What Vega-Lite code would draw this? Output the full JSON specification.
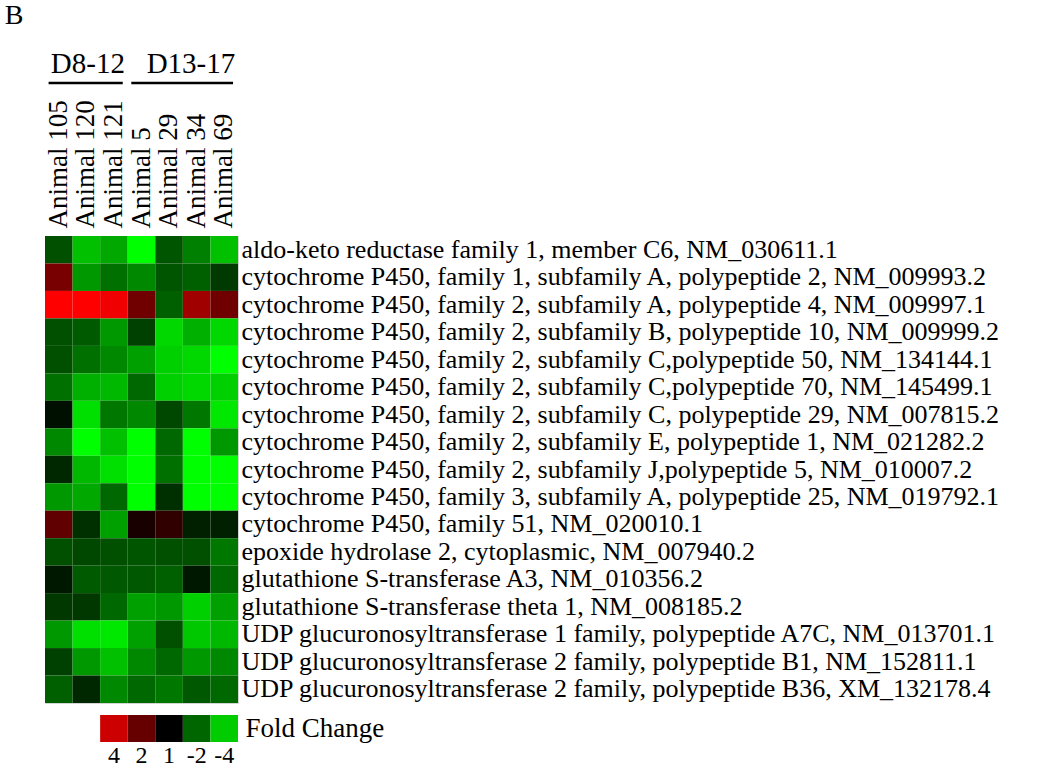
{
  "$schema": "https://vega.github.io/schema/vega-lite/v6.json",
  "padding": {"left": 4, "top": 2, "right": 5, "bottom": 3},
  "background": "white",
  "title": {"text": "B", "anchor": "start", "frame": "bounds", "dx": -39, "fontSize": 28, "font": "Liberation Serif, Times New Roman, serif", "fontWeight": "normal", "color": "black", "offset": 20},
  "spacing": 10,
  "resolve": {"scale": {"x": "independent", "y": "independent", "color": "shared"}},
  "config": {
    "font": "Liberation Serif, Times New Roman, serif",
    "axis": {"labelFont": "Liberation Serif, Times New Roman, serif", "labelColor": "black", "domain": false, "ticks": false, "title": null, "grid": false},
    "text": {"font": "Liberation Serif, Times New Roman, serif"}
  },
  "vconcat": [
    {
      "width": 193,
      "height": 12,
      "view": {"stroke": null},
      "data": {"values": [
        {"grp": "D8-12", "first": "Animal 105", "last": "Animal 121"},
        {"grp": "D13-17", "first": "Animal 5", "last": "Animal 69"}
      ]},
      "layer": [
        {
          "mark": {"type": "rule", "strokeWidth": 2.5, "color": "black"},
          "encoding": {
            "x": {"field": "first", "type": "nominal", "bandPosition": 0.13, "axis": null,
                  "scale": {"domain": ["Animal 105", "Animal 120", "Animal 121", "Animal 5", "Animal 29", "Animal 34", "Animal 69"], "paddingInner": 0, "paddingOuter": 0}},
            "x2": {"field": "last", "bandPosition": 0.82}
          }
        },
        {
          "mark": {"type": "text", "align": "right", "baseline": "alphabetic", "dy": -10, "fontSize": 29, "color": "black", "font": "Liberation Serif, Times New Roman, serif"},
          "encoding": {
            "x": {"field": "last", "type": "nominal", "bandPosition": 0.9, "axis": null},
            "text": {"field": "grp"}
          }
        }
      ]
    },
    {
      "width": 193,
      "height": 467,
      "view": {"stroke": "#d4d4d4", "strokeWidth": 1},
      "data": {"values": [
        {"g": "aldo-keto reductase family 1, member C6, NM_030611.1", "a": "Animal 105", "v": -0.78},
        {"g": "aldo-keto reductase family 1, member C6, NM_030611.1", "a": "Animal 120", "v": -1.88},
        {"g": "aldo-keto reductase family 1, member C6, NM_030611.1", "a": "Animal 121", "v": -1.65},
        {"g": "aldo-keto reductase family 1, member C6, NM_030611.1", "a": "Animal 5", "v": -2.5},
        {"g": "aldo-keto reductase family 1, member C6, NM_030611.1", "a": "Animal 29", "v": -0.83},
        {"g": "aldo-keto reductase family 1, member C6, NM_030611.1", "a": "Animal 34", "v": -1.25},
        {"g": "aldo-keto reductase family 1, member C6, NM_030611.1", "a": "Animal 69", "v": -1.88},
        {"g": "cytochrome P450, family 1, subfamily A, polypeptide 2, NM_009993.2", "a": "Animal 105", "v": 1.18},
        {"g": "cytochrome P450, family 1, subfamily A, polypeptide 2, NM_009993.2", "a": "Animal 120", "v": -1.49},
        {"g": "cytochrome P450, family 1, subfamily A, polypeptide 2, NM_009993.2", "a": "Animal 121", "v": -1.1},
        {"g": "cytochrome P450, family 1, subfamily A, polypeptide 2, NM_009993.2", "a": "Animal 5", "v": -1.33},
        {"g": "cytochrome P450, family 1, subfamily A, polypeptide 2, NM_009993.2", "a": "Animal 29", "v": -0.83},
        {"g": "cytochrome P450, family 1, subfamily A, polypeptide 2, NM_009993.2", "a": "Animal 34", "v": -0.94},
        {"g": "cytochrome P450, family 1, subfamily A, polypeptide 2, NM_009993.2", "a": "Animal 69", "v": -0.57},
        {"g": "cytochrome P450, family 2, subfamily A, polypeptide 4, NM_009997.1", "a": "Animal 105", "v": 2.5},
        {"g": "cytochrome P450, family 2, subfamily A, polypeptide 4, NM_009997.1", "a": "Animal 120", "v": 2.5},
        {"g": "cytochrome P450, family 2, subfamily A, polypeptide 4, NM_009997.1", "a": "Animal 121", "v": 2.35},
        {"g": "cytochrome P450, family 2, subfamily A, polypeptide 4, NM_009997.1", "a": "Animal 5", "v": 1.1},
        {"g": "cytochrome P450, family 2, subfamily A, polypeptide 4, NM_009997.1", "a": "Animal 29", "v": -0.94},
        {"g": "cytochrome P450, family 2, subfamily A, polypeptide 4, NM_009997.1", "a": "Animal 34", "v": 1.57},
        {"g": "cytochrome P450, family 2, subfamily A, polypeptide 4, NM_009997.1", "a": "Animal 69", "v": 1.1},
        {"g": "cytochrome P450, family 2, subfamily B, polypeptide 10, NM_009999.2", "a": "Animal 105", "v": -0.78},
        {"g": "cytochrome P450, family 2, subfamily B, polypeptide 10, NM_009999.2", "a": "Animal 120", "v": -0.88},
        {"g": "cytochrome P450, family 2, subfamily B, polypeptide 10, NM_009999.2", "a": "Animal 121", "v": -1.49},
        {"g": "cytochrome P450, family 2, subfamily B, polypeptide 10, NM_009999.2", "a": "Animal 5", "v": -0.63},
        {"g": "cytochrome P450, family 2, subfamily B, polypeptide 10, NM_009999.2", "a": "Animal 29", "v": -2.12},
        {"g": "cytochrome P450, family 2, subfamily B, polypeptide 10, NM_009999.2", "a": "Animal 34", "v": -1.73},
        {"g": "cytochrome P450, family 2, subfamily B, polypeptide 10, NM_009999.2", "a": "Animal 69", "v": -2.12},
        {"g": "cytochrome P450, family 2, subfamily C,polypeptide 50, NM_134144.1", "a": "Animal 105", "v": -0.78},
        {"g": "cytochrome P450, family 2, subfamily C,polypeptide 50, NM_134144.1", "a": "Animal 120", "v": -1.1},
        {"g": "cytochrome P450, family 2, subfamily C,polypeptide 50, NM_134144.1", "a": "Animal 121", "v": -1.33},
        {"g": "cytochrome P450, family 2, subfamily C,polypeptide 50, NM_134144.1", "a": "Animal 5", "v": -1.57},
        {"g": "cytochrome P450, family 2, subfamily C,polypeptide 50, NM_134144.1", "a": "Animal 29", "v": -2.04},
        {"g": "cytochrome P450, family 2, subfamily C,polypeptide 50, NM_134144.1", "a": "Animal 34", "v": -2.12},
        {"g": "cytochrome P450, family 2, subfamily C,polypeptide 50, NM_134144.1", "a": "Animal 69", "v": -2.5},
        {"g": "cytochrome P450, family 2, subfamily C,polypeptide 70, NM_145499.1", "a": "Animal 105", "v": -1.1},
        {"g": "cytochrome P450, family 2, subfamily C,polypeptide 70, NM_145499.1", "a": "Animal 120", "v": -1.73},
        {"g": "cytochrome P450, family 2, subfamily C,polypeptide 70, NM_145499.1", "a": "Animal 121", "v": -1.8},
        {"g": "cytochrome P450, family 2, subfamily C,polypeptide 70, NM_145499.1", "a": "Animal 5", "v": -1.02},
        {"g": "cytochrome P450, family 2, subfamily C,polypeptide 70, NM_145499.1", "a": "Animal 29", "v": -2.04},
        {"g": "cytochrome P450, family 2, subfamily C,polypeptide 70, NM_145499.1", "a": "Animal 34", "v": -2.12},
        {"g": "cytochrome P450, family 2, subfamily C,polypeptide 70, NM_145499.1", "a": "Animal 69", "v": -2.04},
        {"g": "cytochrome P450, family 2, subfamily C, polypeptide 29, NM_007815.2", "a": "Animal 105", "v": -0.16},
        {"g": "cytochrome P450, family 2, subfamily C, polypeptide 29, NM_007815.2", "a": "Animal 120", "v": -2.2},
        {"g": "cytochrome P450, family 2, subfamily C, polypeptide 29, NM_007815.2", "a": "Animal 121", "v": -1.18},
        {"g": "cytochrome P450, family 2, subfamily C, polypeptide 29, NM_007815.2", "a": "Animal 5", "v": -1.33},
        {"g": "cytochrome P450, family 2, subfamily C, polypeptide 29, NM_007815.2", "a": "Animal 29", "v": -0.71},
        {"g": "cytochrome P450, family 2, subfamily C, polypeptide 29, NM_007815.2", "a": "Animal 34", "v": -1.18},
        {"g": "cytochrome P450, family 2, subfamily C, polypeptide 29, NM_007815.2", "a": "Animal 69", "v": -2.27},
        {"g": "cytochrome P450, family 2, subfamily E, polypeptide 1, NM_021282.2", "a": "Animal 105", "v": -1.33},
        {"g": "cytochrome P450, family 2, subfamily E, polypeptide 1, NM_021282.2", "a": "Animal 120", "v": -2.5},
        {"g": "cytochrome P450, family 2, subfamily E, polypeptide 1, NM_021282.2", "a": "Animal 121", "v": -1.88},
        {"g": "cytochrome P450, family 2, subfamily E, polypeptide 1, NM_021282.2", "a": "Animal 5", "v": -2.5},
        {"g": "cytochrome P450, family 2, subfamily E, polypeptide 1, NM_021282.2", "a": "Animal 29", "v": -1.02},
        {"g": "cytochrome P450, family 2, subfamily E, polypeptide 1, NM_021282.2", "a": "Animal 34", "v": -2.5},
        {"g": "cytochrome P450, family 2, subfamily E, polypeptide 1, NM_021282.2", "a": "Animal 69", "v": -1.49},
        {"g": "cytochrome P450, family 2, subfamily J,polypeptide 5, NM_010007.2", "a": "Animal 105", "v": -0.39},
        {"g": "cytochrome P450, family 2, subfamily J,polypeptide 5, NM_010007.2", "a": "Animal 120", "v": -1.8},
        {"g": "cytochrome P450, family 2, subfamily J,polypeptide 5, NM_010007.2", "a": "Animal 121", "v": -2.2},
        {"g": "cytochrome P450, family 2, subfamily J,polypeptide 5, NM_010007.2", "a": "Animal 5", "v": -2.5},
        {"g": "cytochrome P450, family 2, subfamily J,polypeptide 5, NM_010007.2", "a": "Animal 29", "v": -1.1},
        {"g": "cytochrome P450, family 2, subfamily J,polypeptide 5, NM_010007.2", "a": "Animal 34", "v": -2.5},
        {"g": "cytochrome P450, family 2, subfamily J,polypeptide 5, NM_010007.2", "a": "Animal 69", "v": -2.5},
        {"g": "cytochrome P450, family 3, subfamily A, polypeptide 25, NM_019792.1", "a": "Animal 105", "v": -1.49},
        {"g": "cytochrome P450, family 3, subfamily A, polypeptide 25, NM_019792.1", "a": "Animal 120", "v": -1.65},
        {"g": "cytochrome P450, family 3, subfamily A, polypeptide 25, NM_019792.1", "a": "Animal 121", "v": -1.02},
        {"g": "cytochrome P450, family 3, subfamily A, polypeptide 25, NM_019792.1", "a": "Animal 5", "v": -2.5},
        {"g": "cytochrome P450, family 3, subfamily A, polypeptide 25, NM_019792.1", "a": "Animal 29", "v": -0.47},
        {"g": "cytochrome P450, family 3, subfamily A, polypeptide 25, NM_019792.1", "a": "Animal 34", "v": -2.5},
        {"g": "cytochrome P450, family 3, subfamily A, polypeptide 25, NM_019792.1", "a": "Animal 69", "v": -2.5},
        {"g": "cytochrome P450, family 51, NM_020010.1", "a": "Animal 105", "v": 0.94},
        {"g": "cytochrome P450, family 51, NM_020010.1", "a": "Animal 120", "v": -0.47},
        {"g": "cytochrome P450, family 51, NM_020010.1", "a": "Animal 121", "v": -1.57},
        {"g": "cytochrome P450, family 51, NM_020010.1", "a": "Animal 5", "v": 0.24},
        {"g": "cytochrome P450, family 51, NM_020010.1", "a": "Animal 29", "v": 0.47},
        {"g": "cytochrome P450, family 51, NM_020010.1", "a": "Animal 34", "v": -0.31},
        {"g": "cytochrome P450, family 51, NM_020010.1", "a": "Animal 69", "v": -0.31},
        {"g": "epoxide hydrolase 2, cytoplasmic, NM_007940.2", "a": "Animal 105", "v": -0.78},
        {"g": "epoxide hydrolase 2, cytoplasmic, NM_007940.2", "a": "Animal 120", "v": -0.71},
        {"g": "epoxide hydrolase 2, cytoplasmic, NM_007940.2", "a": "Animal 121", "v": -0.78},
        {"g": "epoxide hydrolase 2, cytoplasmic, NM_007940.2", "a": "Animal 5", "v": -0.83},
        {"g": "epoxide hydrolase 2, cytoplasmic, NM_007940.2", "a": "Animal 29", "v": -0.78},
        {"g": "epoxide hydrolase 2, cytoplasmic, NM_007940.2", "a": "Animal 34", "v": -0.78},
        {"g": "epoxide hydrolase 2, cytoplasmic, NM_007940.2", "a": "Animal 69", "v": -1.18},
        {"g": "glutathione S-transferase A3, NM_010356.2", "a": "Animal 105", "v": -0.24},
        {"g": "glutathione S-transferase A3, NM_010356.2", "a": "Animal 120", "v": -0.88},
        {"g": "glutathione S-transferase A3, NM_010356.2", "a": "Animal 121", "v": -0.86},
        {"g": "glutathione S-transferase A3, NM_010356.2", "a": "Animal 5", "v": -0.86},
        {"g": "glutathione S-transferase A3, NM_010356.2", "a": "Animal 29", "v": -0.94},
        {"g": "glutathione S-transferase A3, NM_010356.2", "a": "Animal 34", "v": -0.24},
        {"g": "glutathione S-transferase A3, NM_010356.2", "a": "Animal 69", "v": -1.02},
        {"g": "glutathione S-transferase theta 1, NM_008185.2", "a": "Animal 105", "v": -0.55},
        {"g": "glutathione S-transferase theta 1, NM_008185.2", "a": "Animal 120", "v": -0.55},
        {"g": "glutathione S-transferase theta 1, NM_008185.2", "a": "Animal 121", "v": -1.02},
        {"g": "glutathione S-transferase theta 1, NM_008185.2", "a": "Animal 5", "v": -1.57},
        {"g": "glutathione S-transferase theta 1, NM_008185.2", "a": "Animal 29", "v": -1.49},
        {"g": "glutathione S-transferase theta 1, NM_008185.2", "a": "Animal 34", "v": -2.04},
        {"g": "glutathione S-transferase theta 1, NM_008185.2", "a": "Animal 69", "v": -1.57},
        {"g": "UDP glucuronosyltransferase 1 family, polypeptide A7C, NM_013701.1", "a": "Animal 105", "v": -1.49},
        {"g": "UDP glucuronosyltransferase 1 family, polypeptide A7C, NM_013701.1", "a": "Animal 120", "v": -2.2},
        {"g": "UDP glucuronosyltransferase 1 family, polypeptide A7C, NM_013701.1", "a": "Animal 121", "v": -2.27},
        {"g": "UDP glucuronosyltransferase 1 family, polypeptide A7C, NM_013701.1", "a": "Animal 5", "v": -1.57},
        {"g": "UDP glucuronosyltransferase 1 family, polypeptide A7C, NM_013701.1", "a": "Animal 29", "v": -0.78},
        {"g": "UDP glucuronosyltransferase 1 family, polypeptide A7C, NM_013701.1", "a": "Animal 34", "v": -1.96},
        {"g": "UDP glucuronosyltransferase 1 family, polypeptide A7C, NM_013701.1", "a": "Animal 69", "v": -1.8},
        {"g": "UDP glucuronosyltransferase 2 family, polypeptide B1, NM_152811.1", "a": "Animal 105", "v": -0.63},
        {"g": "UDP glucuronosyltransferase 2 family, polypeptide B1, NM_152811.1", "a": "Animal 120", "v": -1.49},
        {"g": "UDP glucuronosyltransferase 2 family, polypeptide B1, NM_152811.1", "a": "Animal 121", "v": -1.88},
        {"g": "UDP glucuronosyltransferase 2 family, polypeptide B1, NM_152811.1", "a": "Animal 5", "v": -1.33},
        {"g": "UDP glucuronosyltransferase 2 family, polypeptide B1, NM_152811.1", "a": "Animal 29", "v": -1.02},
        {"g": "UDP glucuronosyltransferase 2 family, polypeptide B1, NM_152811.1", "a": "Animal 34", "v": -1.49},
        {"g": "UDP glucuronosyltransferase 2 family, polypeptide B1, NM_152811.1", "a": "Animal 69", "v": -1.33},
        {"g": "UDP glucuronosyltransferase 2 family, polypeptide B36, XM_132178.4", "a": "Animal 105", "v": -0.94},
        {"g": "UDP glucuronosyltransferase 2 family, polypeptide B36, XM_132178.4", "a": "Animal 120", "v": -0.39},
        {"g": "UDP glucuronosyltransferase 2 family, polypeptide B36, XM_132178.4", "a": "Animal 121", "v": -1.33},
        {"g": "UDP glucuronosyltransferase 2 family, polypeptide B36, XM_132178.4", "a": "Animal 5", "v": -1.02},
        {"g": "UDP glucuronosyltransferase 2 family, polypeptide B36, XM_132178.4", "a": "Animal 29", "v": -1.18},
        {"g": "UDP glucuronosyltransferase 2 family, polypeptide B36, XM_132178.4", "a": "Animal 34", "v": -0.86},
        {"g": "UDP glucuronosyltransferase 2 family, polypeptide B36, XM_132178.4", "a": "Animal 69", "v": -1.02}
      ]},
      "mark": {"type": "rect"},
      "encoding": {
        "x": {"field": "a", "type": "nominal", "sort": null, "scale": {"paddingInner": 0, "paddingOuter": 0},
              "axis": {"orient": "top", "labelAngle": -90, "labelFontSize": 27, "labelPadding": 8}},
        "y": {"field": "g", "type": "nominal", "sort": null, "scale": {"paddingInner": 0, "paddingOuter": 0},
              "axis": {"orient": "right", "labelFontSize": 26, "labelPadding": 3, "labelLimit": 1000}},
        "color": {"field": "v", "type": "quantitative", "legend": null,
                  "scale": {"domain": [-2.5, 0, 2.5], "range": ["#00ff00", "#000000", "#ff0000"], "interpolate": "rgb", "clamp": true}}
      }
    },
    {
      "width": 193,
      "height": 27,
      "view": {"stroke": null},
      "data": {"values": [
        {"fc": "4", "log2fc": 2, "key": "Fold Change"},
        {"fc": "2", "log2fc": 1, "key": "Fold Change"},
        {"fc": "1", "log2fc": 0, "key": "Fold Change"},
        {"fc": "-2", "log2fc": -1, "key": "Fold Change"},
        {"fc": "-4", "log2fc": -2, "key": "Fold Change"}
      ]},
      "mark": {"type": "rect"},
      "encoding": {
        "x": {"field": "fc", "type": "nominal", "sort": null,
              "scale": {"paddingInner": 0, "paddingOuter": 1.02, "align": 1},
              "axis": {"orient": "bottom", "labelAngle": 0, "labelFontSize": 24, "labelPadding": 1}},
        "y": {"field": "key", "type": "nominal",
              "axis": {"orient": "right", "labelFontSize": 27, "labelPadding": 7, "labelLimit": 1000}},
        "color": {"field": "log2fc", "type": "quantitative", "legend": null}
      }
    }
  ]
}
